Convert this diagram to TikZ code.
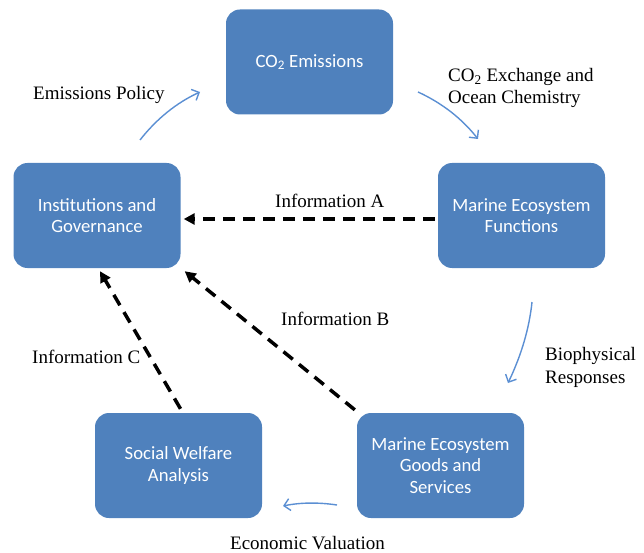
\documentclass[tikz,border=0pt]{standalone}
\usepackage{fontspec}
\setmainfont{Liberation Serif}
\newfontfamily\boxfont{Carlito}
\usetikzlibrary{arrows.meta,calc}
\definecolor{boxblue}{HTML}{4F81BD}
\definecolor{arrblue}{HTML}{5B8FD3}
\begin{document}
\begin{tikzpicture}[x=1pt,y=-1pt,
  mybox/.style={draw=none, fill=boxblue, rounded corners=14pt, minimum width=167pt, minimum height=105pt, text=white, align=center, font=\boxfont\fontsize{18.7}{21.5}\selectfont, inner sep=0pt},
  lbl/.style={font=\fontsize{19}{22.5}\selectfont, align=left, inner sep=0pt, anchor=west},
  dasharrow/.style={draw=black, line width=3.5pt, dash pattern=on 12pt off 8pt, -{Triangle[length=11pt,width=11pt]}},
  flow/.style={draw=arrblue, line width=1.4pt, -{Straight Barb[length=6pt,width=12pt]}}]
\useasboundingbox (0,0) rectangle (644,553);

% boxes
\node[mybox] (co2)  at (309.5,62)   {CO\textsubscript{2} Emissions};
\node[mybox] (inst) at (97,215.5)   {Institutions and\\Governance};
\node[mybox] (mef)  at (521.5,215.5){Marine Ecosystem\\Functions};
\node[mybox] (swa)  at (178.5,465.5){Social Welfare\\Analysis};
\node[mybox] (megs) at (440.5,465.5){Marine Ecosystem\\Goods and\\Services};

% labels
\node[lbl] (lep) at (33,95) {Emissions Policy};
\node[lbl] (lco) at (448,88) {CO\textsubscript{2} Exchange and\\Ocean Chemistry};
\node[lbl] (lia) at (275,201) {Information A};
\node[lbl] (lib) at (281,319) {Information B};
\node[lbl] (lic) at (32,357) {Information C};
\node[lbl] (lbr) at (545,367.5) {Biophysical\\Responses};
\node[lbl] (lev) at (230,543) {Economic Valuation};

% flow arrows
\coordinate (ep1) at (140,140); \coordinate (ep2) at (200,92);
\draw[flow] (ep1) .. controls (156.7,118.7) and (176.7,102.7) .. (ep2);
\coordinate (ce1) at (418,92); \coordinate (ce2) at (478,139);
\draw[flow] (ce1) .. controls (442,103) and (462,118.7) .. (ce2);
\coordinate (bp1) at (532,302); \coordinate (bp2) at (508,383);
\draw[flow] (bp1) .. controls (529.3,328.3) and (521.3,355.3) .. (bp2);
\coordinate (ev1) at (337,505); \coordinate (ev2) at (283,506);
\draw[flow] (ev1) .. controls (319,502.3) and (301,502.3) .. (ev2);

% dashed information arrows
\draw[dasharrow] ($(mef.west)+(-3,3.5)$) -- ($(inst.east)+(3,3.5)$);
\draw[dasharrow] ($(megs.north west)+(-2,-3)$) -- ($(inst.south east)+(4,3)$);
\draw[dasharrow] ($(swa.north)+(2,-4)$) -- ($(inst.south)+(3,3)$);
\end{tikzpicture}
\end{document}
